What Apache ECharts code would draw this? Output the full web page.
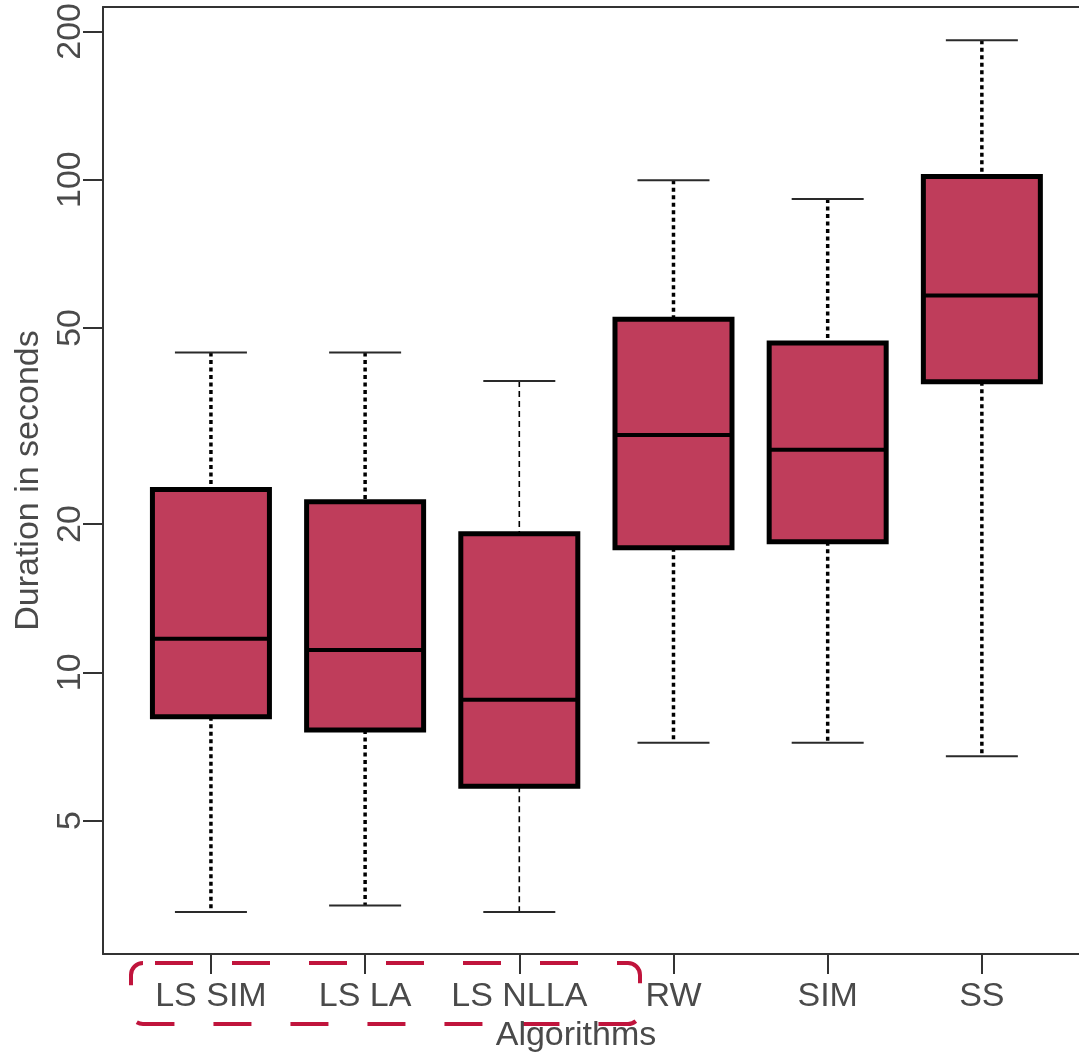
<!DOCTYPE html>
<html>
<head>
<meta charset="utf-8">
<script src="https://cdn.jsdelivr.net/npm/echarts@6/dist/echarts.min.js"></script>
<style>
  html, body { margin: 0; padding: 0; background: #fff; }
  #chart { width: 1079px; height: 1056px; }
</style>
</head>
<body>
<div id="chart"></div>
<script>
// categories and box statistics (seconds)
var algorithms = ['LS SIM', 'LS LA', 'LS NLLA', 'RW', 'SIM', 'SS'];
var whiskerLow  = [3.26, 3.36, 3.26, 7.19, 7.19, 6.75];
var quartile1   = [8.12, 7.64, 5.87, 17.9, 18.4, 38.9];
var medians     = [11.7, 11.1, 8.80, 30.3, 28.3, 58.2];
var quartile3   = [23.5, 22.2, 19.1, 52.1, 46.6, 101.5];
var whiskerHigh = [44.6, 44.6, 39.0, 99.7, 91.4, 191.8];
var yTicks = [5, 10, 20, 50, 100, 200];

var font = 'Liberation Sans, Arial, sans-serif';
var textColor = '#4a4a4a';

var boxData = [];
for (var i = 0; i < algorithms.length; i++) {
	boxData.push([i, whiskerLow[i], quartile1[i], medians[i], quartile3[i], whiskerHigh[i]]);
}

var myChart = echarts.init(document.getElementById('chart'));

function renderBox(params, api) {
	var idx = api.value(0);
	var pLow = api.coord([idx, api.value(1)]);
	var pQ1 = api.coord([idx, api.value(2)]);
	var pMed = api.coord([idx, api.value(3)]);
	var pQ3 = api.coord([idx, api.value(4)]);
	var pHigh = api.coord([idx, api.value(5)]);
	var cx = pMed[0];
	var half = 58.5, capHalf = 36;
	// LS NLLA has a thinner whisker in the original
	var thin = params.dataIndex === 2;
	var whiskerStyle = {
		stroke: '#000',
		lineWidth: thin ? 1.6 : 3.5,
		lineDash: thin ? [6, 4] : [4, 3.5]
	};
	var capStyle = { stroke: '#2a2a2a', lineWidth: 2 };
	return {
		type: 'group',
		children: [
			{ type: 'line', shape: { x1: cx, y1: pHigh[1], x2: cx, y2: pQ3[1] }, style: whiskerStyle },
			{ type: 'line', shape: { x1: cx, y1: pQ1[1], x2: cx, y2: pLow[1] }, style: whiskerStyle },
			{ type: 'line', shape: { x1: cx - capHalf, y1: pHigh[1], x2: cx + capHalf, y2: pHigh[1] }, style: capStyle },
			{ type: 'line', shape: { x1: cx - capHalf, y1: pLow[1], x2: cx + capHalf, y2: pLow[1] }, style: capStyle },
			{
				type: 'rect',
				shape: { x: cx - half, y: pQ3[1], width: half * 2, height: pQ1[1] - pQ3[1] },
				style: { fill: '#bf3d5b', stroke: '#000', lineWidth: 5 }
			},
			{ type: 'line', shape: { x1: cx - half, y1: pMed[1], x2: cx + half, y2: pMed[1] }, style: { stroke: '#000', lineWidth: 4 } }
		]
	};
}

var axisLineStyle = { color: '#333', width: 2 };

var option = {
	backgroundColor: '#fff',
	animation: false,
	grid: {
		left: 103,
		right: 0,
		top: 7,
		bottom: 102
	},
	xAxis: [
		{
			type: 'value',
			min: -0.7,
			max: 5.63,
			splitLine: { show: false },
			axisLine: { show: true, onZero: false, lineStyle: axisLineStyle },
			axisTick: { show: true, length: 20, customValues: [0, 1, 2, 3, 4, 5], lineStyle: axisLineStyle },
			axisLabel: {
				customValues: [0, 1, 2, 3, 4, 5],
				margin: 26,
				fontFamily: font,
				fontSize: 34,
				color: textColor,
				formatter: function(v) { return algorithms[Math.round(v)]; }
			}
		},
		{
			// top frame line only
			type: 'value',
			position: 'top',
			min: -0.7,
			max: 5.63,
			splitLine: { show: false },
			axisLine: { show: true, onZero: false, lineStyle: axisLineStyle },
			axisTick: { show: false },
			axisLabel: { show: false }
		}
	],
	yAxis: {
		type: 'log',
		min: 2.68,
		max: 224,
		name: 'Duration in seconds',
		nameLocation: 'middle',
		nameGap: 43,
		nameTextStyle: { fontFamily: font, fontSize: 34, color: textColor },
		splitLine: { show: false },
		axisLine: { show: true, onZero: false, lineStyle: axisLineStyle },
		axisTick: { show: true, length: 20, customValues: yTicks, lineStyle: axisLineStyle },
		axisLabel: {
			customValues: yTicks,
			rotate: 90,
			margin: 15,
			fontFamily: font,
			fontSize: 34,
			color: textColor,
			formatter: function(v) { return String(Math.round(v)); }
		}
	},
	graphic: [
		{
			type: 'rect',
			shape: { x: 131, y: 963, width: 509, height: 61, r: 12 },
			style: { fill: 'none', stroke: '#c0143c', lineWidth: 4, lineDash: [38, 39], lineDashOffset: 65 },
			z: 10
		},
		{
			type: 'text',
			x: 576,
			y: 1036,
			style: {
				text: 'Algorithms',
				fontFamily: font,
				fontSize: 34,
				fill: textColor,
				align: 'center',
				verticalAlign: 'middle'
			},
			z: 11
		}
	],
	series: [
		{
			name: 'Duration',
			type: 'custom',
			renderItem: renderBox,
			encode: { x: 0, y: [1, 2, 3, 4, 5] },
			data: boxData,
			clip: false
		}
	]
};

myChart.setOption(option);
</script>
</body>
</html>
